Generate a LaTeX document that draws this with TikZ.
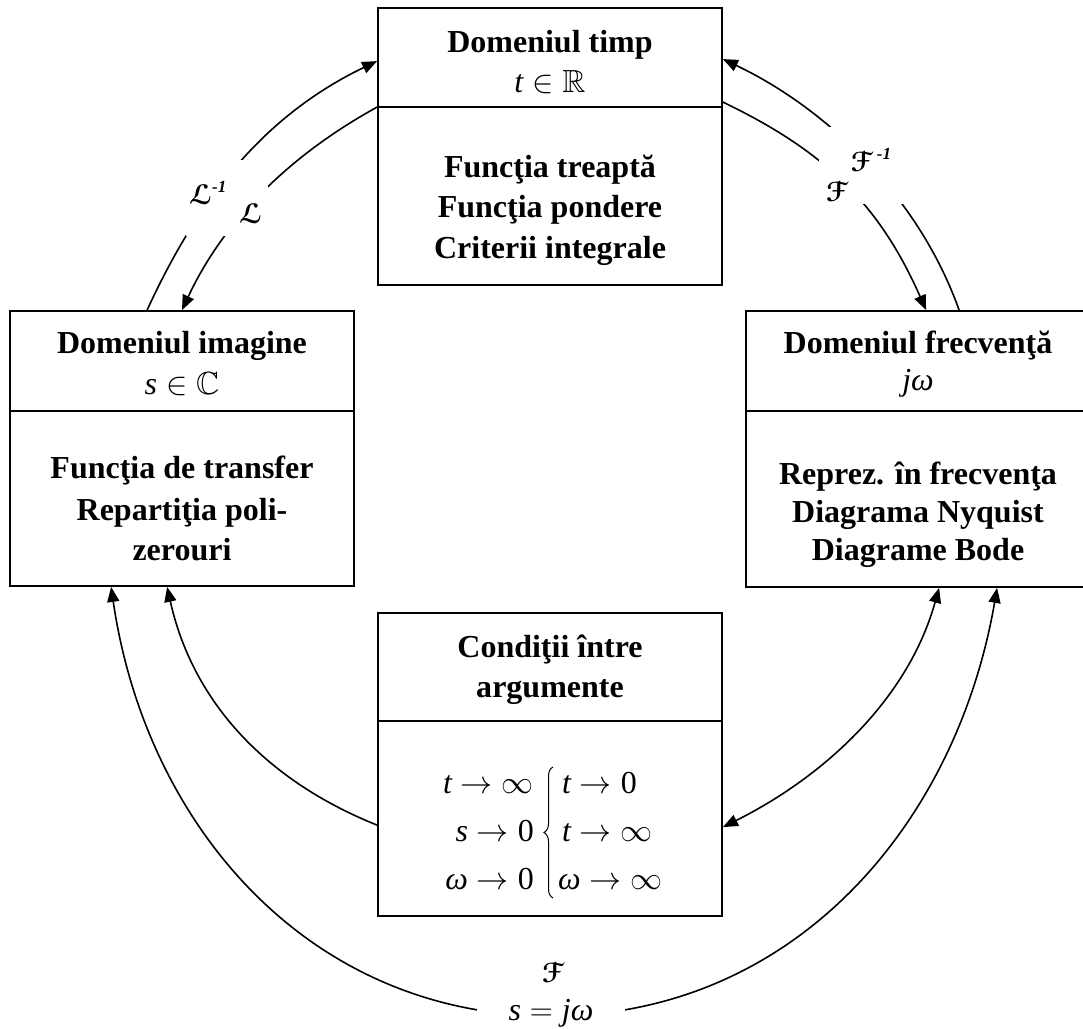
\RequirePackage{fix-cm}
\documentclass[tikz,border=0pt]{standalone}
\usepackage{amssymb}
\DeclareFontFamily{U}{msb}{}
\DeclareFontShape{U}{msb}{m}{n}{<->msbm10}{}
\usepackage[mathscr]{eucal}
\DeclareFontFamily{U}{eus}{\skewchar\font'60}
\DeclareFontShape{U}{eus}{m}{n}{<->eusm10}{}
\DeclareFontShape{U}{eus}{b}{n}{<->eusb10}{}
\usepackage{fontspec}
\setmainfont{Liberation Serif}
\usetikzlibrary{arrows.meta,decorations.pathreplacing,calc}
\begin{document}
\begin{tikzpicture}[x=1pt,y=-1pt,
  box/.style={draw, line width=1.8pt, inner sep=0pt, rectangle},
  divline/.style={line width=1.8pt},
  ttl/.style={font=\fontsize{32}{38}\selectfont\bfseries, anchor=base, inner sep=0pt},
  mth/.style={font=\fontsize{32}{38}\selectfont, inner sep=0pt},
  lbl/.style={font=\fontsize{28}{32}\selectfont, inner sep=0pt},
  conn/.style={line width=1.6pt},
  tipend/.style={-{Triangle[length=15pt,width=12pt]}},
  tipboth/.style={{Triangle[length=15pt,width=12pt]}-{Triangle[length=15pt,width=12pt]}},
  cover/.style={fill=white, draw=none, inner sep=0pt, rectangle}
]
\useasboundingbox (0,0) rectangle (1083,1028);

% boxes
\node[box, minimum width=344pt, minimum height=277pt] (tb) at (550,146.5) {};
\node[box, minimum width=344pt, minimum height=275pt] (lb) at (182,448.5) {};
\node[box, minimum width=344pt, minimum height=276pt] (rb) at (918,449) {};
\node[box, minimum width=344pt, minimum height=303pt] (bb) at (550,764.5) {};
\draw[divline] ($(tb.north west)+(0,100)$) -- ($(tb.north east)+(0,100)$);
\draw[divline] ($(lb.north west)+(0,101)$) -- ($(lb.north east)+(0,101)$);
\draw[divline] ($(rb.north west)+(0,101)$) -- ($(rb.north east)+(0,101)$);
\draw[divline] ($(bb.north west)+(0,109)$) -- ($(bb.north east)+(0,109)$);

% top box text
\node[ttl] (t1) at (550,52) {Domeniul timp};
\node[mth, anchor=base] (t2) at (550,92) {$\textit{t}\in\mathbb{R}$};
\node[ttl] (t3) at (550,177) {Funcţia treaptă};
\node[ttl] (t4) at (550,217) {Funcţia pondere};
\node[ttl] (t5) at (550,258) {Criterii integrale};

% left box text
\node[ttl] (l1) at (182,353) {Domeniul imagine};
\node[mth, anchor=base] (l2) at (182,394) {$\textit{s}\in\mathbb{C}$};
\node[ttl] (l3) at (182,478) {Funcţia de transfer};
\node[ttl] (l4) at (182,520) {Repartiţia poli-};
\node[ttl] (l5) at (182,560) {zerouri};

% right box text
\node[ttl] (r1) at (918,353) {Domeniul frecvenţă};
\node[mth, anchor=base] (r2) at (918,390) {\textit{jω}};
\node[ttl] (r3) at (918,484) {Reprez. în frecvenţa};
\node[ttl] (r4) at (918,522) {Diagrama Nyquist};
\node[ttl] (r5) at (918,560) {Diagrame Bode};

% bottom box text
\node[ttl] (b1) at (550,657) {Condiţii între};
\node[ttl] (b2) at (550,697) {argumente};
\node[mth, anchor=base east] (m1) at (534,793) {$\textit{t}\rightarrow\infty$};
\node[mth, anchor=base east] (m2) at (534,841) {$\textit{s}\rightarrow\textrm{0}$};
\node[mth, anchor=base east] (m3) at (534,889) {$\textit{ω}\rightarrow\textrm{0}$};
\node[mth, anchor=base west] (m4) at (562,793) {$\textit{t}\rightarrow\textrm{0}$};
\node[mth, anchor=base west] (m5) at (562,841) {$\textit{t}\rightarrow\infty$};
\node[mth, anchor=base west] (m6) at (558,889) {$\textit{ω}\rightarrow\infty$};
\draw[line width=1pt, decorate, decoration={brace, amplitude=9pt}] (553,898) -- (553,767);

% connectors
\draw[conn,tipend] ($(lb.north west)+(138,0)$) .. controls (199,197) and (265,115) .. ($(tb.north west)+(0,54)$);
\draw[conn,tipend] ($(tb.north west)+(0,100)$) .. controls (290,155) and (224,220) .. (lb.north);
\draw[conn,tipend] ($(rb.north west)+(214,0)$) .. controls (920,200) and (830,110) .. ($(tb.north east)+(0,52)$);
\draw[conn,tipend] ($(tb.north east)+(0,95)$) .. controls (827,152) and (880,206) .. ($(rb.north west)+(181,0)$);
\draw[conn,tipend] ($(bb.north west)+(0,213)$) .. controls (267,781) and (193,703) .. ($(lb.south west)+(158,0)$);
\draw[conn,tipboth] ($(bb.north east)+(0,215)$) .. controls (825,776) and (908,699) .. ($(rb.south west)+(194,0)$);
\coordinate (bmid) at (551,1016);
\draw[conn,tipboth] ($(lb.south west)+(102,0)$) .. controls (146,826) and (309,1016) .. (bmid) .. controls (793,1016) and (956,826) .. ($(rb.south west)+(252,0)$);

% label boxes
\node[cover, minimum width=82pt, minimum height=76pt] (cvL) at (227,198) {};
\node[cover, minimum width=86pt, minimum height=77pt] (cvF) at (862,165.5) {};
\node[cover, minimum width=148pt, minimum height=74pt] (cvB) at (551,992) {};

\node[lbl] (lLinv) at (208,193) {{\boldmath$\mathscr{L}$}\raisebox{0.45em}{\fontsize{17}{17}\selectfont\bfseries\itshape -1}};
\node[lbl] (lL) at (251,214) {{\boldmath$\mathscr{L}$}};
\node[lbl] (lFinv) at (871,160) {{\boldmath$\mathscr{F}$}\,\raisebox{0.45em}{\fontsize{17}{17}\selectfont\bfseries\itshape -1}};
\node[lbl] (lF) at (837,192) {{\boldmath$\mathscr{F}$}};
\node[lbl] (lFb) at (553,973) {{\boldmath$\mathscr{F}$}};
\node[mth, anchor=base] (sjw) at (551,1020) {$\textit{s}=\textit{jω}$};
\end{tikzpicture}
\end{document}
